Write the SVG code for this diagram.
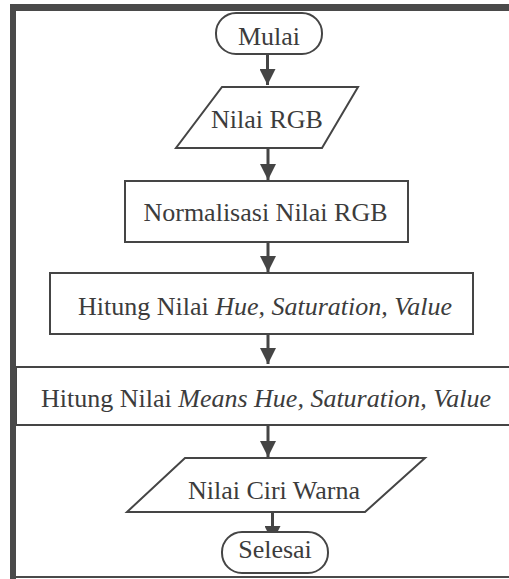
<svg xmlns="http://www.w3.org/2000/svg" width="509" height="579" viewBox="0 0 509 579">
  <style>
    .shape { fill: #ffffff; stroke: #454545; stroke-width: 2; }
    .lbl { font-family: "Liberation Serif", "DejaVu Serif", serif; font-size: 26px; fill: #3c3c3c; text-anchor: middle; }
    .it { font-style: italic; }
    .conn { stroke: #454545; stroke-width: 3; fill: none; }
  </style>
  <defs>
    <marker id="arrow" markerUnits="userSpaceOnUse" viewBox="0 0 16 16" markerWidth="16" markerHeight="16" refX="16" refY="8" orient="auto">
      <path d="M0,0 L16,8 L0,16 z" fill="#454545"/>
    </marker>
  </defs>
  <rect width="509" height="579" fill="#ffffff"/>
  <g id="connectors">
    <line class="conn" x1="267.5" y1="54" x2="267.5" y2="85" marker-end="url(#arrow)"/>
    <line class="conn" x1="268" y1="148" x2="268" y2="180" marker-end="url(#arrow)"/>
    <line class="conn" x1="268" y1="242" x2="268" y2="272" marker-end="url(#arrow)"/>
    <line class="conn" x1="268" y1="334" x2="268" y2="364" marker-end="url(#arrow)"/>
    <line class="conn" x1="268" y1="425" x2="268" y2="457" marker-end="url(#arrow)"/>
    <line class="conn" x1="272.5" y1="512" x2="272.5" y2="542" marker-end="url(#arrow)"/>
  </g>
  <g id="mulai">
    <rect class="shape" x="216" y="13" width="106" height="41" rx="20" ry="20"/>
    <text class="lbl" x="269" y="45">Mulai</text>
  </g>
  <g id="nilai-rgb">
    <polygon class="shape" points="222,87 358,87 322,148 176,148"/>
    <text class="lbl" x="267" y="128">Nilai RGB</text>
  </g>
  <g id="normalisasi">
    <rect class="shape" x="125" y="181" width="283" height="61"/>
    <text class="lbl" x="265.5" y="221">Normalisasi Nilai RGB</text>
  </g>
  <g id="hitung-hsv">
    <rect class="shape" x="50" y="273" width="423" height="61"/>
    <text class="lbl" x="265" y="315">Hitung Nilai <tspan class="it">Hue, Saturation, Value</tspan></text>
  </g>
  <g id="hitung-means">
    <rect class="shape" x="16" y="367" width="500" height="58"/>
    <text class="lbl" x="266" y="407">Hitung Nilai <tspan class="it">Means Hue, Saturation, Value</tspan></text>
  </g>
  <g id="nilai-ciri">
    <polygon class="shape" points="185,458 425,458 365,512 127,512"/>
    <text class="lbl" x="274" y="499">Nilai Ciri Warna</text>
  </g>
  <g id="selesai">
    <rect class="shape" x="222" y="532" width="106" height="41" rx="20" ry="20"/>
    <text class="lbl" x="275" y="558">Selesai</text>
  </g>
  <g id="frame">
    <rect x="10" y="4" width="499" height="7" fill="#4a4a4a"/>
    <rect x="10" y="4" width="6" height="575" fill="#4a4a4a"/>
    <rect x="16" y="576" width="493" height="2" fill="#4a4a4a"/>
  </g>
</svg>
